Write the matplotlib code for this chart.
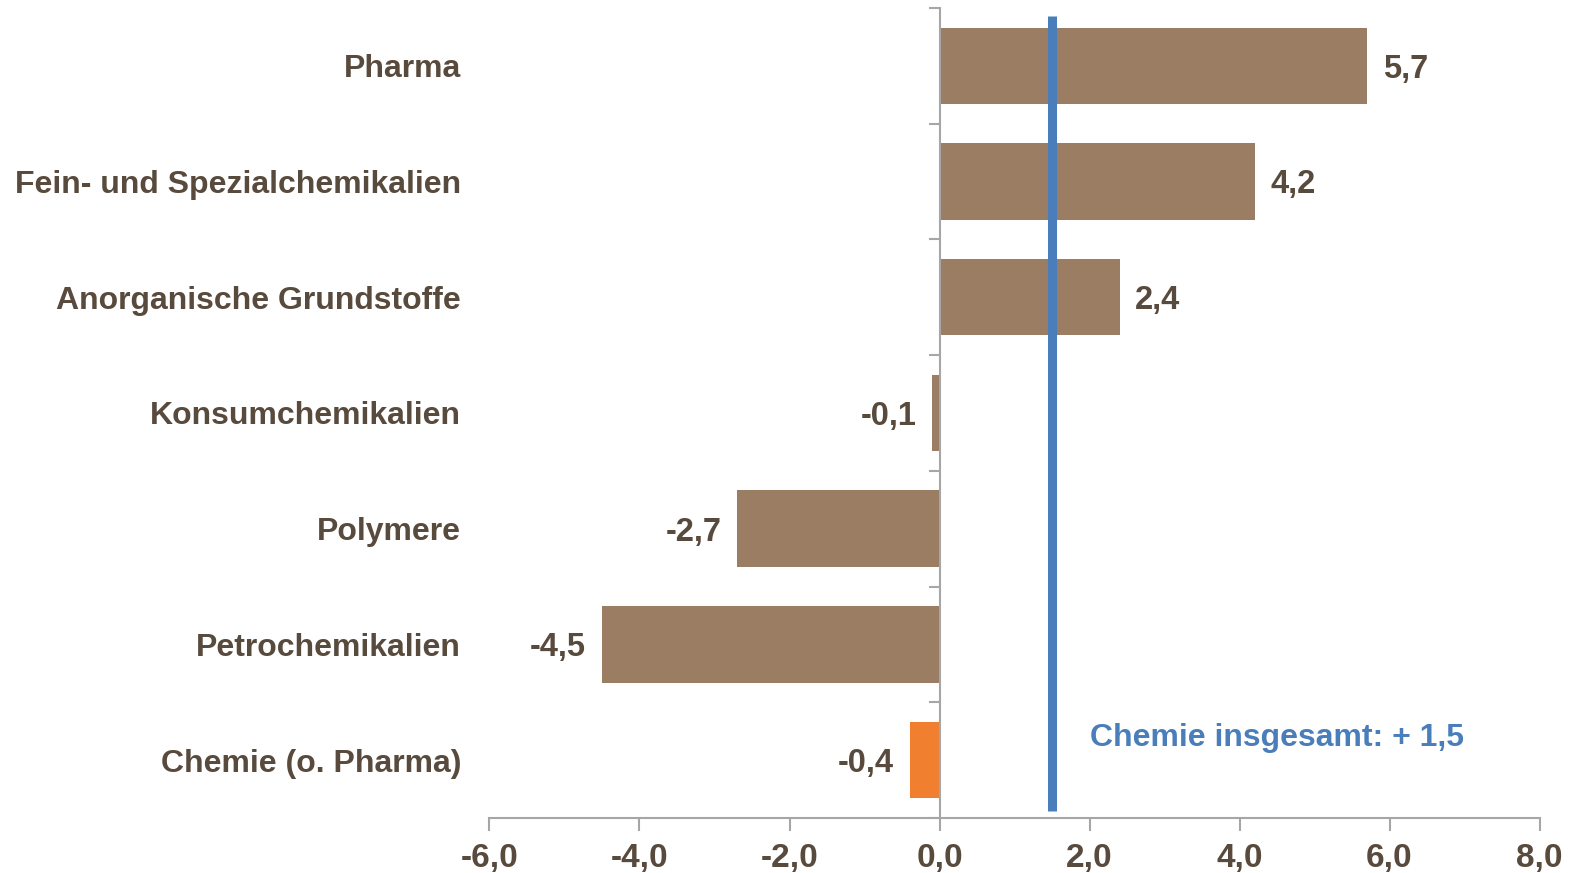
import numpy as np
import matplotlib
matplotlib.use('Agg')
import matplotlib.pyplot as plt
from matplotlib.ticker import FuncFormatter
import matplotlib.transforms as mtransforms

categories = ['Pharma', 'Fein- und Spezialchemikalien', 'Anorganische Grundstoffe',
              'Konsumchemikalien', 'Polymere', 'Petrochemikalien', 'Chemie (o. Pharma)']
values = [5.7, 4.2, 2.4, -0.1, -2.7, -4.5, -0.4]
total = 1.5
total_label = 'Chemie insgesamt: + 1,5'

brown = '#9A7D63'
orange = '#F08030'
blue = '#4A7EBB'
txt = '#584A3C'
grey = '#A6A6A6'

plt.rcParams['font.family'] = ['Liberation Sans', 'DejaVu Sans']
plt.rcParams['font.weight'] = 'bold'

fig = plt.figure(figsize=(15.79, 8.73), dpi=100)
ax = fig.add_axes([0.31, 0.063, 0.665, 0.928])

n = len(categories)
ypos = np.arange(n)[::-1]
colors = [brown] * (n - 1) + [orange]
ax.barh(ypos, values, height=0.66, color=colors, zorder=2)

ax.set_xlim(-6, 8)
ax.set_ylim(-0.5, n - 0.5)

# total line
ax.plot([total, total], [-0.44, n - 0.57], color=blue, lw=6.5, solid_capstyle='butt', zorder=3)
ax.text(total + 0.51, 0.22, total_label, color=blue, fontsize=23, fontweight='bold',
        ha='left', va='center_baseline')

# value labels
for y, v in zip(ypos, values):
    s = ('%.1f' % v).replace('.', ',')
    if v >= 0:
        ax.text(v + 0.21, y, s, ha='left', va='center_baseline', color=txt, fontsize=23.5, fontweight='bold')
    else:
        ax.text(v - 0.21, y, s, ha='right', va='center_baseline', color=txt, fontsize=23.5, fontweight='bold')

# category labels
trans = mtransforms.blended_transform_factory(ax.transAxes, ax.transData)
for y, c in zip(ypos, categories):
    ax.text(-0.027, y, c, transform=trans, ha='right', va='center_baseline', color=txt,
            fontsize=23, fontweight='bold')

# spines
for s in ['top', 'right']:
    ax.spines[s].set_visible(False)
ax.spines['left'].set_position(('data', 0))
ax.spines['left'].set_color(grey)
ax.spines['bottom'].set_color(grey)
ax.spines['left'].set_linewidth(1.5)
ax.spines['bottom'].set_linewidth(1.5)
ax.spines['left'].set_zorder(4)

ax.set_yticks(np.arange(-0.5, n, 1.0))
ax.set_yticklabels([])
ax.tick_params(axis='y', length=8, width=1.5, color=grey, direction='out')

ax.set_xticks(np.arange(-6, 9, 2))
ax.xaxis.set_major_formatter(FuncFormatter(lambda x, p: ('%.1f' % x).replace('.', ',')))
ax.tick_params(axis='x', length=9, width=1.5, color=grey, labelsize=24, labelcolor=txt, pad=9)
for lbl in ax.get_xticklabels():
    lbl.set_fontweight('bold')

fig.savefig('out.png', dpi=100)
